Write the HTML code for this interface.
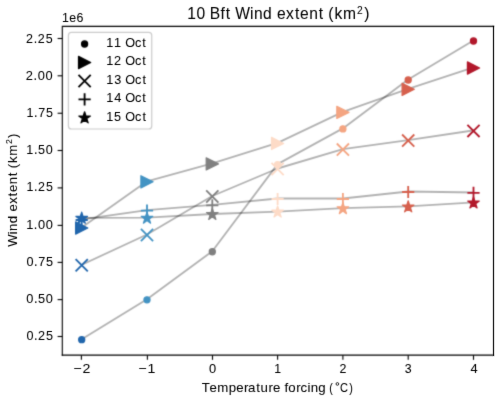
<!DOCTYPE html>
<html><head><meta charset="utf-8"><title>10 Bft Wind extent</title><style>html,body{margin:0;padding:0;background:#fff;}svg{display:block;will-change:transform;}text{font-family:"Liberation Sans",sans-serif;fill:#000;stroke:#000;stroke-width:0.06px;}</style></head><body>
<svg width="500" height="400" viewBox="0 0 500 400">
<defs><filter id="soft" x="0" y="0" width="500" height="400" filterUnits="userSpaceOnUse" color-interpolation-filters="sRGB"><feConvolveMatrix order="3" kernelMatrix="0.02250 0.10500 0.02250 0.10500 0.49000 0.10500 0.02250 0.10500 0.02250" divisor="1" edgeMode="duplicate" preserveAlpha="true"/></filter><filter id="softt" x="0" y="0" width="500" height="400" filterUnits="userSpaceOnUse" color-interpolation-filters="sRGB"><feConvolveMatrix order="3" kernelMatrix="0.00640 0.06720 0.00640 0.06720 0.70560 0.06720 0.00640 0.06720 0.00640" divisor="1" edgeMode="none" preserveAlpha="false"/></filter></defs>
<g filter="url(#soft)">
<rect width="500" height="400" fill="#fff"/>
<polyline points="81.7,339.2 147,299.3 212.3,251.25 277.6,164.1 342.9,128.4 408.2,79.5 473.5,40.5" fill="none" stroke="#000" stroke-opacity="0.3" stroke-width="1.83" stroke-linejoin="round" stroke-linecap="square"/>
<polyline points="81.7,227.5 147,181.3 212.3,163.4 277.6,142.95 342.9,111.9 408.2,88.8 473.5,67.5" fill="none" stroke="#000" stroke-opacity="0.3" stroke-width="1.83" stroke-linejoin="round" stroke-linecap="square"/>
<polyline points="81.7,264.8 147,234.5 212.3,196 277.6,168.5 342.9,149.1 408.2,140.1 473.5,130.4" fill="none" stroke="#000" stroke-opacity="0.3" stroke-width="1.83" stroke-linejoin="round" stroke-linecap="square"/>
<polyline points="81.7,219.5 147,210.2 212.3,204.8 277.6,198.5 342.9,198.5 408.2,191.5 473.5,192.45" fill="none" stroke="#000" stroke-opacity="0.3" stroke-width="1.83" stroke-linejoin="round" stroke-linecap="square"/>
<polyline points="81.7,217.8 147,217.7 212.3,214 277.6,211.6 342.9,208.2 408.2,206.4 473.5,202.5" fill="none" stroke="#000" stroke-opacity="0.3" stroke-width="1.83" stroke-linejoin="round" stroke-linecap="square"/>
<circle cx="81.7" cy="339.7" r="3.05" fill="#2166ac" stroke="#2166ac" stroke-width="1.22"/>
<circle cx="147" cy="299.8" r="3.05" fill="#4393c3" stroke="#4393c3" stroke-width="1.22"/>
<circle cx="212.3" cy="251.75" r="3.05" fill="#808080" stroke="#808080" stroke-width="1.22"/>
<circle cx="277.6" cy="164.6" r="3.05" fill="#fddbc7" stroke="#fddbc7" stroke-width="1.22"/>
<circle cx="342.9" cy="128.9" r="3.05" fill="#f4a582" stroke="#f4a582" stroke-width="1.22"/>
<circle cx="408.2" cy="80" r="3.05" fill="#d6604d" stroke="#d6604d" stroke-width="1.22"/>
<circle cx="473.5" cy="41" r="3.05" fill="#b2182b" stroke="#b2182b" stroke-width="1.22"/>
<path d="M87.8 228L75.6 221.9L75.6 234.1Z" fill="#2166ac" stroke="#2166ac" stroke-width="1.22" stroke-linejoin="round"/>
<path d="M153.1 181.8L140.9 175.7L140.9 187.9Z" fill="#4393c3" stroke="#4393c3" stroke-width="1.22" stroke-linejoin="round"/>
<path d="M218.4 163.9L206.2 157.8L206.2 170Z" fill="#808080" stroke="#808080" stroke-width="1.22" stroke-linejoin="round"/>
<path d="M283.7 143.45L271.5 137.35L271.5 149.55Z" fill="#fddbc7" stroke="#fddbc7" stroke-width="1.22" stroke-linejoin="round"/>
<path d="M349 112.4L336.8 106.3L336.8 118.5Z" fill="#f4a582" stroke="#f4a582" stroke-width="1.22" stroke-linejoin="round"/>
<path d="M414.3 89.3L402.1 83.2L402.1 95.4Z" fill="#d6604d" stroke="#d6604d" stroke-width="1.22" stroke-linejoin="round"/>
<path d="M479.6 68L467.4 61.9L467.4 74.1Z" fill="#b2182b" stroke="#b2182b" stroke-width="1.22" stroke-linejoin="round"/>
<path d="M75.6 259.2L87.8 271.4M75.6 271.4L87.8 259.2" stroke="#2166ac" stroke-width="1.83" fill="none"/>
<path d="M140.9 228.9L153.1 241.1M140.9 241.1L153.1 228.9" stroke="#4393c3" stroke-width="1.83" fill="none"/>
<path d="M206.2 190.4L218.4 202.6M206.2 202.6L218.4 190.4" stroke="#808080" stroke-width="1.83" fill="none"/>
<path d="M271.5 162.9L283.7 175.1M271.5 175.1L283.7 162.9" stroke="#fddbc7" stroke-width="1.83" fill="none"/>
<path d="M336.8 143.5L349 155.7M336.8 155.7L349 143.5" stroke="#f4a582" stroke-width="1.83" fill="none"/>
<path d="M402.1 134.5L414.3 146.7M402.1 146.7L414.3 134.5" stroke="#d6604d" stroke-width="1.83" fill="none"/>
<path d="M467.4 124.8L479.6 137M467.4 137L479.6 124.8" stroke="#b2182b" stroke-width="1.83" fill="none"/>
<path d="M75.6 220H87.8M81.7 213.9V226.1" stroke="#2166ac" stroke-width="1.83" fill="none"/>
<path d="M140.9 210.7H153.1M147 204.6V216.8" stroke="#4393c3" stroke-width="1.83" fill="none"/>
<path d="M206.2 205.3H218.4M212.3 199.2V211.4" stroke="#808080" stroke-width="1.83" fill="none"/>
<path d="M271.5 199H283.7M277.6 192.9V205.1" stroke="#fddbc7" stroke-width="1.83" fill="none"/>
<path d="M336.8 199H349M342.9 192.9V205.1" stroke="#f4a582" stroke-width="1.83" fill="none"/>
<path d="M402.1 192H414.3M408.2 185.9V198.1" stroke="#d6604d" stroke-width="1.83" fill="none"/>
<path d="M467.4 192.95H479.6M473.5 186.85V199.05" stroke="#b2182b" stroke-width="1.83" fill="none"/>
<path d="M81.7 212.2L80.33 216.41L75.9 216.41L79.48 219.02L78.11 223.24L81.7 220.63L85.29 223.24L83.92 219.02L87.5 216.41L83.07 216.41Z" fill="#2166ac" stroke="#2166ac" stroke-width="1.22" stroke-linejoin="round"/>
<path d="M147 212.1L145.63 216.31L141.2 216.31L144.78 218.92L143.41 223.14L147 220.53L150.59 223.14L149.22 218.92L152.8 216.31L148.37 216.31Z" fill="#4393c3" stroke="#4393c3" stroke-width="1.22" stroke-linejoin="round"/>
<path d="M212.3 208.4L210.93 212.61L206.5 212.61L210.08 215.22L208.71 219.44L212.3 216.83L215.89 219.44L214.52 215.22L218.1 212.61L213.67 212.61Z" fill="#808080" stroke="#808080" stroke-width="1.22" stroke-linejoin="round"/>
<path d="M277.6 206L276.23 210.21L271.8 210.21L275.38 212.82L274.01 217.04L277.6 214.43L281.19 217.04L279.82 212.82L283.4 210.21L278.97 210.21Z" fill="#fddbc7" stroke="#fddbc7" stroke-width="1.22" stroke-linejoin="round"/>
<path d="M342.9 202.6L341.53 206.81L337.1 206.81L340.68 209.42L339.31 213.64L342.9 211.03L346.49 213.64L345.12 209.42L348.7 206.81L344.27 206.81Z" fill="#f4a582" stroke="#f4a582" stroke-width="1.22" stroke-linejoin="round"/>
<path d="M408.2 200.8L406.83 205.01L402.4 205.01L405.98 207.62L404.61 211.84L408.2 209.23L411.79 211.84L410.42 207.62L414 205.01L409.57 205.01Z" fill="#d6604d" stroke="#d6604d" stroke-width="1.22" stroke-linejoin="round"/>
<path d="M473.5 196.9L472.13 201.11L467.7 201.11L471.28 203.72L469.91 207.94L473.5 205.33L477.09 207.94L475.72 203.72L479.3 201.11L474.87 201.11Z" fill="#b2182b" stroke="#b2182b" stroke-width="1.22" stroke-linejoin="round"/>
<path d="M62.3 355.15V26.4H493.5" fill="none" stroke="#000" stroke-width="1.1" stroke-linejoin="miter" stroke-linecap="square"/>
<path d="M61.75 355.15H493.5" fill="none" stroke="#000" stroke-width="1.3" stroke-linecap="butt"/>
<line x1="57.6" y1="38.5" x2="62.3" y2="38.5" stroke="#000" stroke-width="1.1"/>
<line x1="57.6" y1="75.8" x2="62.3" y2="75.8" stroke="#000" stroke-width="1.1"/>
<line x1="57.6" y1="113.25" x2="62.3" y2="113.25" stroke="#000" stroke-width="1.1"/>
<line x1="57.6" y1="150.5" x2="62.3" y2="150.5" stroke="#000" stroke-width="1.1"/>
<line x1="57.6" y1="187.9" x2="62.3" y2="187.9" stroke="#000" stroke-width="1.1"/>
<line x1="57.6" y1="225.4" x2="62.3" y2="225.4" stroke="#000" stroke-width="1.1"/>
<line x1="57.6" y1="262.4" x2="62.3" y2="262.4" stroke="#000" stroke-width="1.1"/>
<line x1="57.6" y1="299.6" x2="62.3" y2="299.6" stroke="#000" stroke-width="1.1"/>
<line x1="57.6" y1="336.5" x2="62.3" y2="336.5" stroke="#000" stroke-width="1.1"/>
<line x1="81.4" y1="355.15" x2="81.4" y2="359.85" stroke="#000" stroke-width="1.1"/>
<line x1="147.4" y1="355.15" x2="147.4" y2="359.85" stroke="#000" stroke-width="1.1"/>
<line x1="212.5" y1="355.15" x2="212.5" y2="359.85" stroke="#000" stroke-width="1.1"/>
<line x1="277.6" y1="355.15" x2="277.6" y2="359.85" stroke="#000" stroke-width="1.1"/>
<line x1="342.9" y1="355.15" x2="342.9" y2="359.85" stroke="#000" stroke-width="1.1"/>
<line x1="408.2" y1="355.15" x2="408.2" y2="359.85" stroke="#000" stroke-width="1.1"/>
<line x1="473.5" y1="355.15" x2="473.5" y2="359.85" stroke="#000" stroke-width="1.1"/>
<rect x="68.4" y="32.4" width="83.35" height="96.6" rx="3" ry="3" fill="#fff" fill-opacity="0.8" stroke="#cccccc" stroke-width="1.22"/>
<circle cx="84.6" cy="44" r="3.05" fill="#000" stroke="#000" stroke-width="1.22"/>
<path d="M90.7 62.5L78.5 56.4L78.5 68.6Z" fill="#000" stroke="#000" stroke-width="1.22" stroke-linejoin="round"/>
<path d="M78.5 74.9L90.7 87.1M78.5 87.1L90.7 74.9" stroke="#000" stroke-width="1.83" fill="none"/>
<path d="M78.5 99.4H90.7M84.6 93.3V105.5" stroke="#000" stroke-width="1.83" fill="none"/>
<path d="M84.6 111.8L83.23 116.01L78.8 116.01L82.38 118.62L81.01 122.84L84.6 120.23L88.19 122.84L86.82 118.62L90.4 116.01L85.97 116.01Z" fill="#000" stroke="#000" stroke-width="1.22" stroke-linejoin="round"/>
</g>
<g filter="url(#softt)">
<text x="27.22 35.34 39.49 47.8" y="42.7" font-size="13.04" transform="scale(0.9562,1)">2.25</text>
<text x="26.18 34.11 38.25 46.19" y="79.6" font-size="13.04" transform="scale(0.9853,1)">2.00</text>
<text x="27.55 35.55 39.84 47.99" y="117" font-size="13.04" transform="scale(0.9580,1)">1.75</text>
<text x="27.18 35.14 39.36 47.51" y="154.3" font-size="13.04" transform="scale(0.9652,1)">1.50</text>
<text x="27.7 35.73 39.9 48.23" y="191.5" font-size="13.04" transform="scale(0.9535,1)">1.25</text>
<text x="26.62 34.46 38.62 46.58" y="229" font-size="13.04" transform="scale(0.9832,1)">1.00</text>
<text x="27.24 35.09 39.29 47.32" y="266.5" font-size="13.04" transform="scale(0.9719,1)">0.75</text>
<text x="26.89 34.7 38.83 46.88" y="303.5" font-size="13.04" transform="scale(0.9787,1)">0.50</text>
<text x="27.38 35.25 39.34 47.54" y="340.5" font-size="13.04" transform="scale(0.9676,1)">0.25</text>
<text x="67.37 75.64" y="373" font-size="12.93" transform="scale(1.0912,1)">−2</text>
<text x="127.01 135.36" y="373" font-size="12.93" transform="scale(1.0906,1)">−1</text>
<text x="210.09" y="373" font-size="12.93" transform="scale(0.9945,1)">0</text>
<text x="288.81" y="373" font-size="12.93" transform="scale(0.9498,1)">1</text>
<text x="354.13" y="373" font-size="12.93" transform="scale(0.9586,1)">2</text>
<text x="423.75" y="373" font-size="12.93" transform="scale(0.9551,1)">3</text>
<text x="473.12" y="373" font-size="12.93" transform="scale(0.9946,1)">4</text>
<text x="61.88 69.29 76.58" y="21.9" font-size="12.40">1e6</text>
<text x="188.63 198.01 207.18 211.41 222.28 227.49 232.72 237 251.97 256.01 265.17 274.41 279.06 288.26 297.19 302.43 311.55 321.17 326.4 330.74 337 345.65 366.96" y="18.9" font-size="15.74" transform="scale(0.9923,1)">10 Bft Wind extent (km)</text>
<text x="382.88" y="13.54" font-size="11.02" transform="scale(0.9322,1)">2</text>
<text x="193.33 200.73 208.09 219.1 226.23 233.71 237.51 245.45 249.57 257.21 261.49 268.58 272.57 276.19 283.67 287.77 294.43 297.55 304.74" y="391.7" font-size="12.69" transform="scale(1.0441,1)">Temperature forcing</text>
<text x="387.46" y="391.7" font-size="12.69" transform="scale(0.8500,1)">(</text>
<circle cx="337.4" cy="383.95" r="1.35" fill="none" stroke="#000" stroke-width="0.85"/>
<text x="388.28" y="391.7" font-size="12.69" transform="scale(0.8758,1)">C</text>
<text x="410.88" y="391.7" font-size="12.69" transform="scale(0.8500,1)">)</text>
<g transform="translate(16.6,0) rotate(-90)">
<text x="-242.75 -230.42 -227.08 -219.54 -211.92 -208.08 -200.5 -193.14 -188.82 -181.29 -173.37 -169.06 -165.48 -160.31 -153.17 -135.61" y="0" font-size="12.92" transform="scale(1.0168,1)">Wind extent (km)</text>
<text x="-150.23" y="-4.59" font-size="9.04" transform="scale(0.9586,1)">2</text>
</g>
<text x="108.58 116.5 124.31 127.96 137.93 145.35" y="46.8" font-size="12.93" transform="scale(0.9795,1)">11 Oct</text>
<text x="108.41 116.22 124.12 127.76 137.72 145.13" y="65.3" font-size="12.93" transform="scale(0.9810,1)">12 Oct</text>
<text x="108.51 116.52 124.24 127.89 137.86 145.27" y="83.8" font-size="12.93" transform="scale(0.9801,1)">13 Oct</text>
<text x="107.57 115.49 123.18 126.77 136.67 144.03" y="102.2" font-size="12.93" transform="scale(0.9884,1)">14 Oct</text>
<text x="108.91 116.87 124.68 128.36 138.35 145.79" y="120.7" font-size="12.93" transform="scale(0.9766,1)">15 Oct</text>
</g>
<rect x="492" y="25.4" width="3" height="330.95" fill="#000" fill-opacity="0.13"/>
<rect x="493" y="25.9" width="1" height="329.95" fill="#000" fill-opacity="0.86"/>
</svg></body></html>
